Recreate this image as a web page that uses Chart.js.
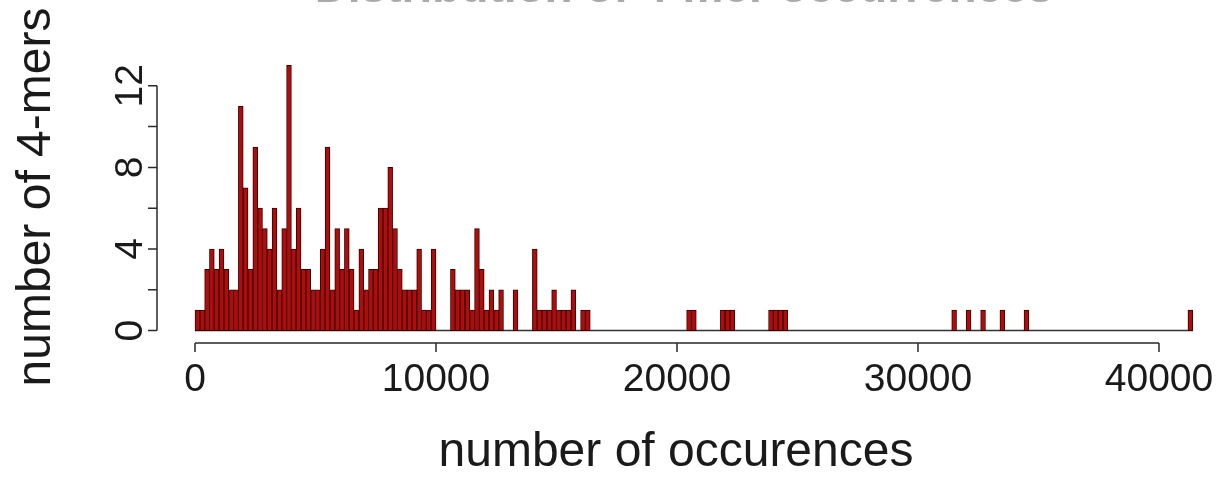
<!DOCTYPE html>
<html>
<head>
<meta charset="utf-8">
<script src="https://cdn.jsdelivr.net/npm/chart.js@4"></script>
<style>
  html, body { margin: 0; padding: 0; background: #fff; }
  #wrap { width: 1229px; height: 490px; }
</style>
</head>
<body>
<div id="wrap"><canvas id="chart" width="1229" height="490"></canvas></div>
<script>
// Histogram of 4-mer occurrence counts, bins of 200
const binWidth = 200;
const counts = [
  1, 1, 3, 4, 3, 4, 3, 2, 2, 11,
  7, 3, 9, 6, 5, 4, 6, 2, 5, 13,
  4, 6, 3, 3, 2, 2, 4, 9, 2, 5,
  3, 5, 3, 1, 4, 2, 3, 3, 6, 6,
  8, 5, 3, 2, 2, 2, 4, 1, 1, 4,
  0, 0, 0, 3, 2, 2, 2, 1, 5, 3,
  1, 2, 1, 2, 0, 0, 2, 0, 0, 0,
  4, 1, 1, 1, 2, 1, 1, 1, 2, 0,
  1, 1, 0, 0, 0, 0, 0, 0, 0, 0,
  0, 0, 0, 0, 0, 0, 0, 0, 0, 0,
  0, 0, 1, 1, 0, 0, 0, 0, 0, 1,
  1, 1, 0, 0, 0, 0, 0, 0, 0, 1,
  1, 1, 1, 0, 0, 0, 0, 0, 0, 0,
  0, 0, 0, 0, 0, 0, 0, 0, 0, 0,
  0, 0, 0, 0, 0, 0, 0, 0, 0, 0,
  0, 0, 0, 0, 0, 0, 0, 1, 0, 0,
  1, 0, 0, 1, 0, 0, 0, 1, 0, 0,
  0, 0, 1, 0, 0, 0, 0, 0, 0, 0,
  0, 0, 0, 0, 0, 0, 0, 0, 0, 0,
  0, 0, 0, 0, 0, 0, 0, 0, 0, 0,
  0, 0, 0, 0, 0, 0, 1
];
const xTicks = [0, 10000, 20000, 30000, 40000];
const yTicks = [0, 2, 4, 6, 8, 10, 12];
const yLabels = [0, 4, 8, 12];

const titleText = "Distribution of 4-mer occurrences";
const xTitle = "number of occurences";
const yTitle = "number of 4-mers";

const bars = counts.map((c, i) => ({ x: i * binWidth + binWidth / 2, y: c }));
const baseLine = [{ x: 0, y: 0 }, { x: counts.length * binWidth, y: 0 }];

const FONT = '"Liberation Sans", Arial, Helvetica, sans-serif';

// R style detached axes, drawn from the chart scales
const rAxes = {
  id: "rAxes",
  afterDraw(chart) {
    const { ctx, chartArea } = chart;
    const x = chart.scales.x;
    const y = chart.scales.y;
    ctx.save();
    ctx.strokeStyle = "#2a2a2a";
    ctx.fillStyle = "#1a1a1a";
    ctx.lineWidth = 1.5;

    // x axis
    const ay = chartArea.bottom + 1;
    ctx.beginPath();
    ctx.moveTo(x.getPixelForValue(xTicks[0]), ay);
    ctx.lineTo(x.getPixelForValue(xTicks[xTicks.length - 1]), ay);
    xTicks.forEach((v) => {
      const px = x.getPixelForValue(v);
      ctx.moveTo(px, ay);
      ctx.lineTo(px, ay + 9);
    });
    ctx.stroke();
    ctx.font = "39px " + FONT;
    ctx.textAlign = "center";
    ctx.textBaseline = "alphabetic";
    xTicks.forEach((v) => ctx.fillText(String(v), x.getPixelForValue(v), 391));

    // y axis
    const ax = chartArea.left;
    ctx.beginPath();
    ctx.moveTo(ax, y.getPixelForValue(yTicks[0]));
    ctx.lineTo(ax, y.getPixelForValue(yTicks[yTicks.length - 1]));
    yTicks.forEach((v) => {
      const py = y.getPixelForValue(v);
      ctx.moveTo(ax, py);
      ctx.lineTo(ax - 9, py);
    });
    ctx.stroke();
    yLabels.forEach((v) => {
      ctx.save();
      ctx.translate(142, y.getPixelForValue(v));
      ctx.rotate(-Math.PI / 2);
      ctx.fillText(String(v), 0, 0);
      ctx.restore();
    });

    // axis titles
    ctx.font = "48px " + FONT;
    ctx.fillText(xTitle, 676, 466);
    ctx.save();
    ctx.translate(50, 197);
    ctx.rotate(-Math.PI / 2);
    ctx.fillText(yTitle, 0, 0);
    ctx.restore();

    // main title (cut off at the top edge)
    ctx.fillStyle = "#aaa";
    ctx.font = "bold 46px " + FONT;
    ctx.fillText(titleText, 684, 2);
    ctx.restore();
  },
};

const ctx = document.getElementById("chart").getContext("2d");
new Chart(ctx, {
  type: "bar",
  data: {
    datasets: [
      {
        type: "line",
        data: baseLine,
        borderColor: "#333",
        borderWidth: 1.5,
        pointRadius: 0,
        order: 2,
      },
      {
        data: bars,
        backgroundColor: "#b00c0c",
        borderColor: "#380000",
        borderWidth: 1,
        borderSkipped: false,
        barPercentage: 1,
        categoryPercentage: 1,
        order: 1,
      },
    ],
  },
  options: {
    responsive: false,
    animation: false,
    layout: { padding: { left: 157, right: 0, top: 54, bottom: 148 } },
    plugins: {
      legend: { display: false },
      tooltip: { enabled: false },
    },
    scales: {
      x: { type: "linear", min: -1577, max: 42905, offset: false, display: false },
      y: { min: -0.56, max: 13.56, display: false },
    },
  },
  plugins: [rAxes],
});
</script>
</body>
</html>
